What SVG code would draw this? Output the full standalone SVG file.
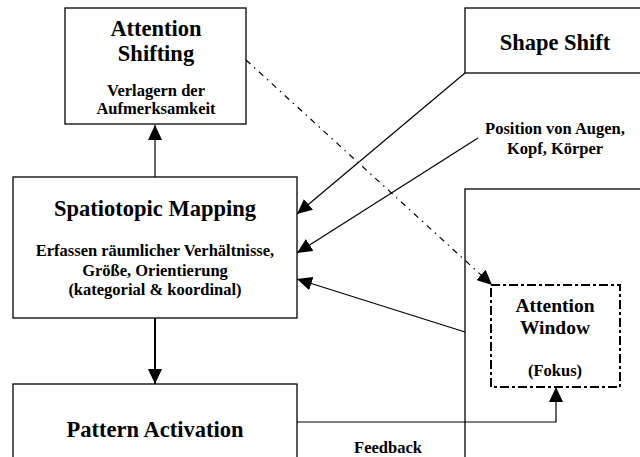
<svg xmlns="http://www.w3.org/2000/svg" width="640" height="457" viewBox="0 0 640 457">
  <style>
    .box { fill: #fff; stroke: #000; stroke-width: 1.3; }
    .win { fill: #fff; stroke: #000; stroke-width: 2; stroke-dasharray: 9 3 3 3; }
    text { font-family: 'Liberation Serif', 'DejaVu Serif', serif; font-weight: bold; text-anchor: middle; fill: #000; }
    .big { font-size: 22.5px; }
    .mid { font-size: 19.5px; }
    .small { font-size: 16.5px; }
    .ln { fill: none; stroke: #000; stroke-width: 1.2; }
    .thick { stroke-width: 2; }
    .dd { stroke-dasharray: 6 5 1.5 5; }
  </style>
  <defs>
    <marker id="arr" viewBox="0 0 15 14" refX="15" refY="7" markerWidth="15" markerHeight="14" orient="auto" markerUnits="userSpaceOnUse">
      <path d="M0,0 L15,7 L0,14 z" fill="#000"/>
    </marker>
  </defs>

  <rect width="640" height="457" fill="#fff"/>

  <!-- large frame on the right, running off the page -->
  <g id="frame">
    <rect class="box" x="465" y="189" width="200" height="300"/>
  </g>

  <g id="connectors">
    <line class="ln" x1="155" y1="177" x2="155" y2="125" marker-end="url(#arr)"/>
    <line class="ln thick" x1="155" y1="318" x2="155" y2="384" marker-end="url(#arr)"/>
    <line class="ln" x1="465" y1="73" x2="297" y2="214" marker-end="url(#arr)"/>
    <line class="ln" x1="478" y1="138" x2="297" y2="253" marker-end="url(#arr)"/>
    <line class="ln" x1="465" y1="332" x2="297" y2="279" marker-end="url(#arr)"/>
    <line class="ln dd" x1="246" y1="60" x2="492" y2="285" marker-end="url(#arr)"/>
    <path class="ln" d="M297,422 H556 V387" marker-end="url(#arr)"/>
  </g>

  <g id="attention-shifting">
    <rect class="box" x="65" y="8" width="181" height="116"/>
    <text class="big" x="156" y="36">Attention</text>
    <text class="big" x="156" y="61">Shifting</text>
    <text class="small" x="156" y="96">Verlagern der</text>
    <text class="small" x="156" y="114">Aufmerksamkeit</text>
  </g>

  <g id="shape-shift">
    <rect class="box" x="465" y="8" width="200" height="65"/>
    <text class="big" x="555" y="50">Shape Shift</text>
  </g>

  <g id="position-label">
    <text class="small" x="555" y="134">Position von Augen,</text>
    <text class="small" x="555" y="154">Kopf, Körper</text>
  </g>

  <g id="spatiotopic-mapping">
    <rect class="box" x="13" y="177" width="284" height="141"/>
    <text class="big" x="155" y="216">Spatiotopic Mapping</text>
    <text class="small" x="155" y="256">Erfassen räumlicher Verhältnisse,</text>
    <text class="small" x="155" y="276">Größe, Orientierung</text>
    <text class="small" x="155" y="295">(kategorial &amp; koordinal)</text>
  </g>

  <g id="attention-window">
    <rect class="win" x="491" y="285" width="129" height="102"/>
    <text class="mid" x="555" y="312">Attention</text>
    <text class="mid" x="555" y="334">Window</text>
    <text class="small" x="555" y="376">(Fokus)</text>
  </g>

  <g id="pattern-activation">
    <rect class="box" x="13" y="384" width="284" height="100"/>
    <text class="big" x="155" y="437">Pattern Activation</text>
  </g>

  <g id="feedback-label">
    <text class="small" x="388" y="453">Feedback</text>
  </g>
</svg>
